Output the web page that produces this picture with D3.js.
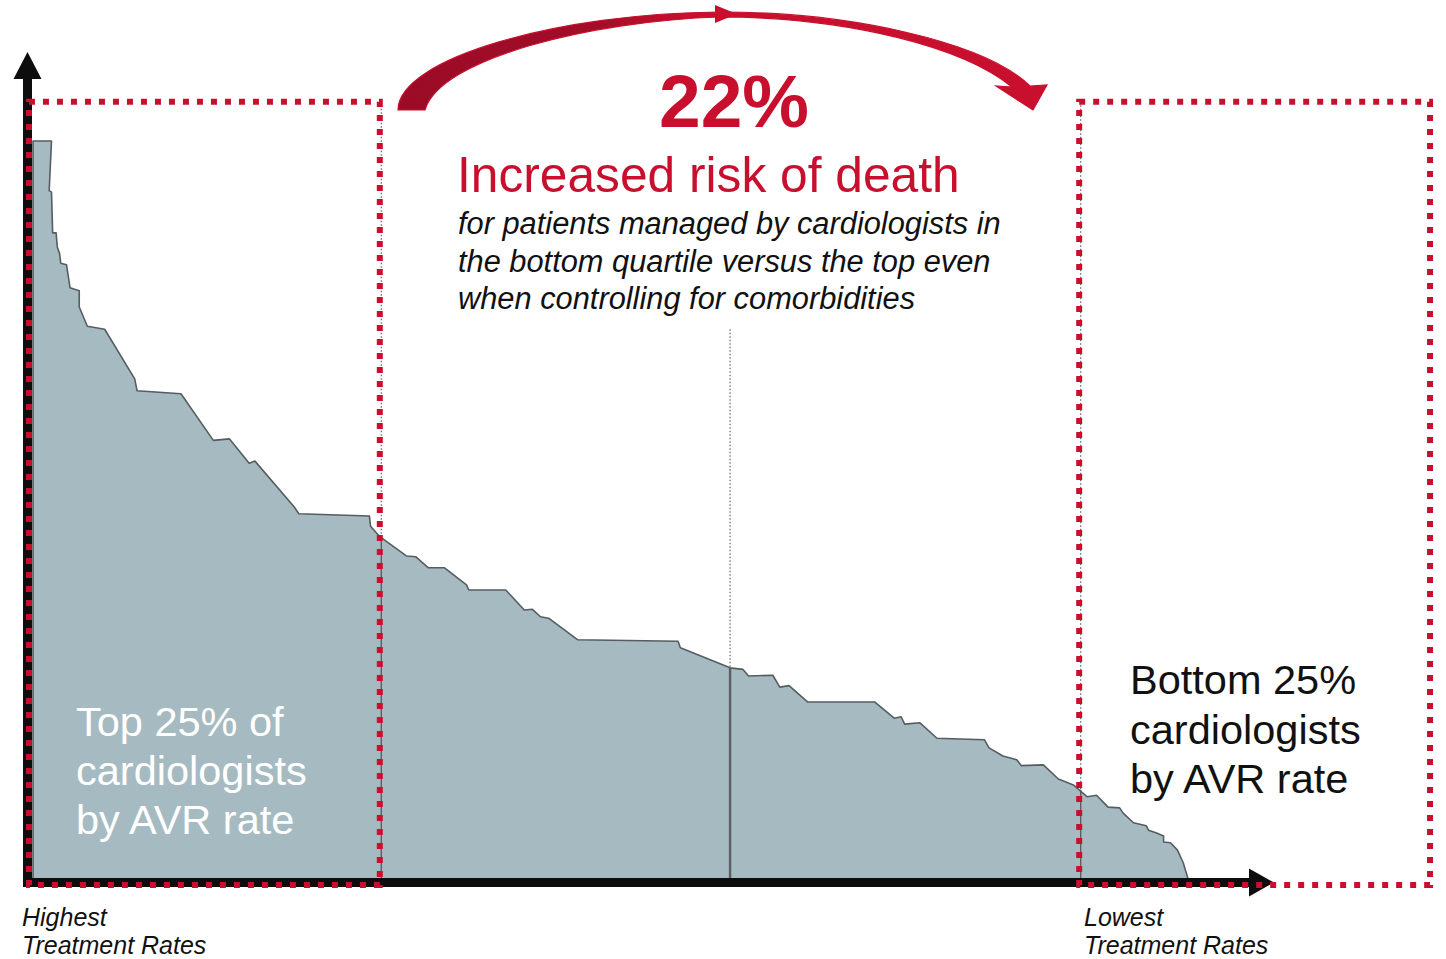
<!DOCTYPE html>
<html>
<head>
<meta charset="utf-8">
<script src="https://cdn.jsdelivr.net/npm/d3@7/dist/d3.min.js"></script>
<style>
  html, body { margin: 0; padding: 0; background: #ffffff; }
  svg { display: block; font-family: "Liberation Sans", Arial, Helvetica, sans-serif; }
</style>
</head>
<body>
<svg id="chart" width="1446" height="959"></svg>
<script>
// ---------------- data ----------------
// cardiologist rank (0 = highest AVR rate, 100 = lowest), as percentile position
const rank = [0, 1.6, 1.4, 1.6, 1.7, 2.0, 2.1, 2.3, 2.4, 2.9, 3.2, 4.0, 4.0, 4.7, 6.2, 8.8, 9.0, 12.8,
  15.6, 17.0, 18.7, 19.2, 22.6, 23.0, 29.1, 29.2, 30.0, 32.3, 33.1, 34.2, 35.6, 37.5, 37.7, 40.9, 42.5,
  43.2, 43.9, 44.6, 47.1, 55.8, 56.0, 60.3, 61.4, 61.9, 64.0, 64.6, 65.4, 67.0, 72.8, 74.5, 75.1, 75.4,
  76.7, 78.2, 82.3, 82.7, 83.9, 85.1, 85.5, 87.4, 88.7, 90.0, 91.2, 92.0, 93.0, 94.0, 94.3, 95.2, 96.3,
  96.5, 97.2, 97.8, 97.8, 98.4, 99.0, 99.5, 100];
// relative AVR treatment rate (index, max = 100)
const avrRate = [100, 100, 93.3, 93.1, 87.6, 87.6, 85.7, 84.8, 83.5, 83.3, 80.2, 79.8, 77.6, 75.0, 74.6,
  67.9, 66.3, 65.9, 59.6, 59.8, 56.5, 56.8, 50.6, 49.7, 49.4, 48.0, 46.6, 44.0, 43.9, 42.4, 42.4, 40.1,
  39.4, 39.4, 36.7, 36.8, 35.8, 35.6, 32.7, 32.5, 31.6, 28.9, 28.7, 27.8, 27.9, 26.3, 26.5, 24.3, 24.3,
  22.1, 22.3, 21.3, 21.5, 19.4, 19.2, 18.1, 17.0, 16.5, 15.7, 15.8, 13.9, 13.1, 11.5, 11.7, 10.1, 10.0,
  9.3, 8.0, 7.6, 7.0, 6.6, 6.2, 5.4, 5.3, 4.3, 2.6, 0];

// quartile / median markers on the rank axis
const q1Rank = 30.0;
const medianRank = 60.3;
const q3Rank = 90.5;
// extents of the highlighted groups (rank units)
const topGroup = [-0.35, 30.0];
const bottomGroup = [90.5, 120.85];
const groupTop = 105.3;      // index level of the boxes' top edge
const medianLineTop = 74.6;  // index level where the median guide starts

const headline = "22%";
const subhead = "Increased risk of death";
const noteLines = ["for patients managed by cardiologists in",
                   "the bottom quartile versus the top even",
                   "when controlling for comorbidities"];
const topLabel = ["Top 25% of", "cardiologists", "by AVR rate"];
const bottomLabel = ["Bottom 25%", "cardiologists", "by AVR rate"];
const leftAxisLabel = ["Highest", "Treatment Rates"];
const rightAxisLabel = ["Lowest", "Treatment Rates"];

// ---------------- setup ----------------
const RED = "#c8102e";
const svg = d3.select("#chart");
const x = d3.scaleLinear().domain([0, 100]).range([33, 1189]);
const y = d3.scaleLinear().domain([0, 100]).range([882, 141]);

const pts = rank.map((r, i) => ({ r, v: avrRate[i] }));
function valueAt(r) {
  for (let i = 1; i < pts.length; i++) {
    const a = pts[i - 1], b = pts[i];
    if (r >= Math.min(a.r, b.r) && r <= Math.max(a.r, b.r) && a.r !== b.r) {
      return a.v + (b.v - a.v) * (r - a.r) / (b.r - a.r);
    }
  }
  return 0;
}

// ---------------- area ----------------
const area = d3.area().x(d => x(d.r)).y0(y(0)).y1(d => y(d.v));
svg.append("path").datum(pts)
  .attr("d", area)
  .attr("fill", "#a6bbc1")
  .attr("stroke", "none");
const line = d3.line().x(d => x(d.r)).y(d => y(d.v));
svg.append("path").datum([{ r: 0, v: 0 }].concat(pts))
  .attr("d", line)
  .attr("fill", "none")
  .attr("stroke", "#555d60")
  .attr("stroke-width", 1.6)
  .attr("stroke-linejoin", "round");

// ---------------- guide lines ----------------
const guides = [
  { r: q1Rank, top: groupTop, dx: 1.5, w: 1.4 },
  { r: medianRank, top: medianLineTop, dx: 0, w: 2.4 },
  { r: q3Rank, top: groupTop, dx: 1.5, w: 1.4 }
];
guides.forEach(g => {
  const v = valueAt(g.r);
  svg.append("line")
    .attr("x1", x(g.r) + g.dx).attr("x2", x(g.r) + g.dx)
    .attr("y1", y(g.top)).attr("y2", y(v))
    .attr("stroke", "#6b6f71").attr("stroke-width", 1.3)
    .attr("stroke-dasharray", "1.5 2");
  svg.append("line")
    .attr("x1", x(g.r) + g.dx).attr("x2", x(g.r) + g.dx)
    .attr("y1", y(v)).attr("y2", y(0))
    .attr("stroke", "#5a5f61").attr("stroke-width", g.w);
});

// ---------------- axes ----------------
const axisX = x(0) - 5.5;
const axisY = y(0) + 0.5;
svg.append("line").attr("x1", axisX).attr("x2", axisX)
  .attr("y1", axisY + 4.5).attr("y2", 76)
  .attr("stroke", "#0d0d0d").attr("stroke-width", 9);
svg.append("path")
  .attr("d", `M${axisX - 14},79 L${axisX + 14},79 L${axisX},52 Z`)
  .attr("fill", "#0d0d0d");
svg.append("line").attr("x1", axisX - 4.5).attr("x2", 1252)
  .attr("y1", axisY).attr("y2", axisY)
  .attr("stroke", "#0d0d0d").attr("stroke-width", 9);
svg.append("path")
  .attr("d", `M1249,${axisY - 14} L1249,${axisY + 14} L1274,${axisY} Z`)
  .attr("fill", "#0d0d0d");

// ---------------- dotted group boxes ----------------
[topGroup, bottomGroup].forEach(g => {
  svg.append("rect")
    .attr("x", x(g[0])).attr("y", y(groupTop))
    .attr("width", x(g[1]) - x(g[0]))
    .attr("height", y(0) + 3 - y(groupTop))
    .attr("fill", "none")
    .attr("stroke", RED)
    .attr("stroke-width", 6)
    .attr("stroke-dasharray", "6 8");
});

// ---------------- curved arrow ----------------
const defs = svg.append("defs");
const grad = defs.append("linearGradient").attr("id", "arrowGrad")
  .attr("gradientUnits", "userSpaceOnUse")
  .attr("x1", 398).attr("y1", 0).attr("x2", 1046).attr("y2", 0);
grad.append("stop").attr("offset", 0).attr("stop-color", "#9b0b26");
grad.append("stop").attr("offset", 0.3).attr("stop-color", "#a20d28");
grad.append("stop").attr("offset", 0.45).attr("stop-color", RED);
grad.append("stop").attr("offset", 1).attr("stop-color", RED);

svg.append("path")
  .attr("d", "M398,110 C398,58 560,13 720,12 C850,12 985,42 1030,86 L1047,85 L1033,110 L996,86 L1012,87 " +
             "C965,48 850,17 720,17 C592,21 440,58 425,110 Z")
  .attr("fill", "url(#arrowGrad)")
  .attr("stroke", RED)
  .attr("stroke-width", 1.2)
  .attr("stroke-linejoin", "miter");
svg.append("path")
  .attr("d", "M715,5 L715,23 L737,14 Z")
  .attr("fill", RED);

// ---------------- text ----------------
svg.append("text").attr("x", 734).attr("y", 127)
  .attr("text-anchor", "middle")
  .attr("font-size", 75).attr("font-weight", "bold")
  .attr("fill", RED).text(headline);

svg.append("text").attr("x", 457).attr("y", 192)
  .attr("font-size", 49.7).attr("fill", RED).text(subhead);

svg.append("g").selectAll("text").data(noteLines).join("text")
  .attr("x", 458).attr("y", (d, i) => 234 + i * 37.5)
  .attr("font-size", 30.8).attr("font-style", "italic")
  .attr("fill", "#111").text(d => d);

svg.append("g").selectAll("text").data(topLabel).join("text")
  .attr("x", 76).attr("y", (d, i) => 736 + i * 49)
  .attr("font-size", 41.5).attr("fill", "#ffffff").text(d => d);

svg.append("g").selectAll("text").data(bottomLabel).join("text")
  .attr("x", 1130).attr("y", (d, i) => 694 + i * 49.5)
  .attr("font-size", 41.5).attr("fill", "#111").text(d => d);

svg.append("g").selectAll("text").data(leftAxisLabel).join("text")
  .attr("x", 22).attr("y", (d, i) => 926 + i * 27.5)
  .attr("font-size", 25).attr("font-style", "italic")
  .attr("fill", "#111").text(d => d);

svg.append("g").selectAll("text").data(rightAxisLabel).join("text")
  .attr("x", 1084).attr("y", (d, i) => 926 + i * 27.5)
  .attr("font-size", 25).attr("font-style", "italic")
  .attr("fill", "#111").text(d => d);
</script>
</body>
</html>
